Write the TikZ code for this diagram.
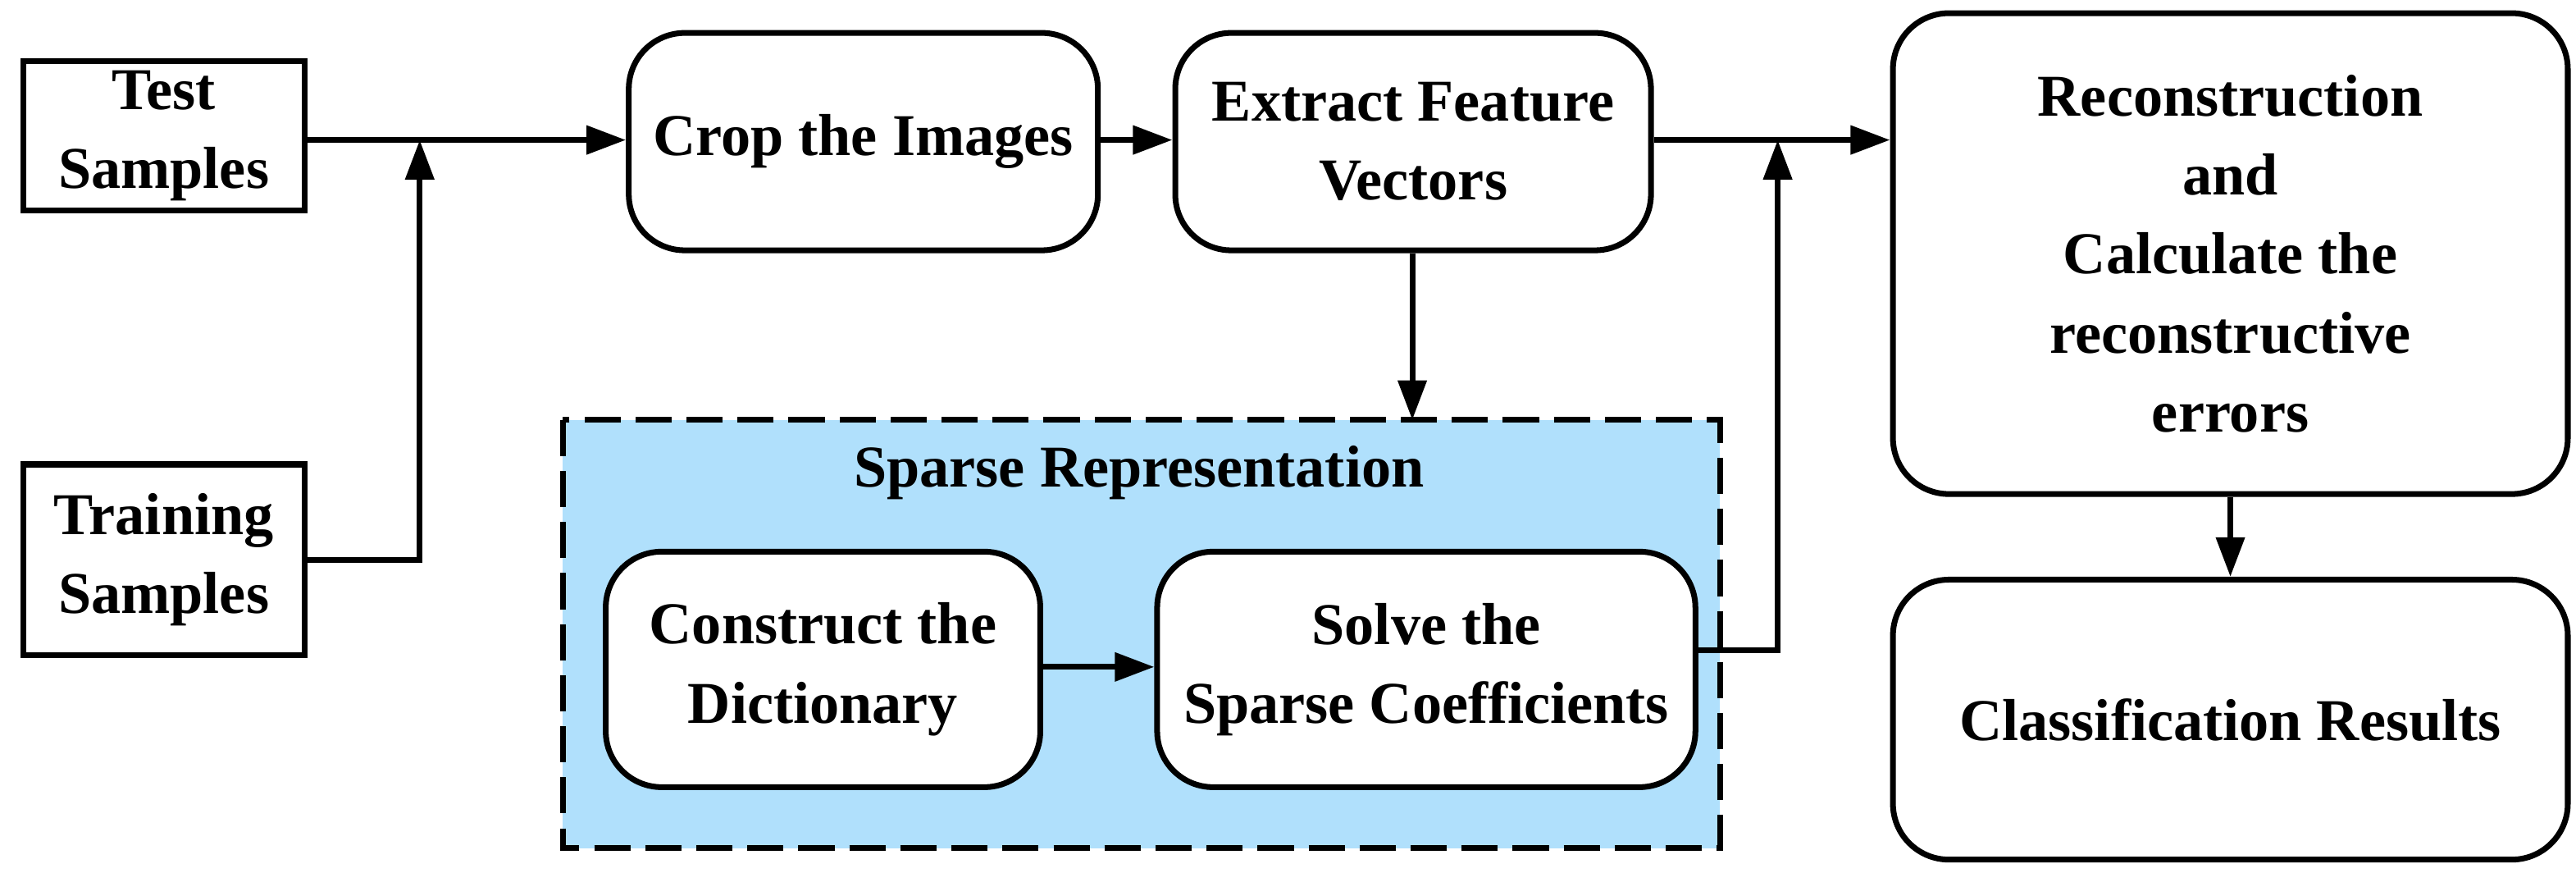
\documentclass[tikz,border=0pt]{standalone}
\usepackage{fontspec}
\setmainfont{Liberation Serif}
\usetikzlibrary{arrows.meta}
\definecolor{sb}{HTML}{B0E0FC}
\begin{document}
\begin{tikzpicture}[x=1pt,y=-1pt,
  line width=3.5pt,
  box/.style={draw,line width=3.5pt,align=center,font=\fontsize{36}{48}\selectfont\bfseries,inner sep=0pt},
  rbox/.style={box,rounded corners=34pt},
  arr/.style={-{Triangle[length=24pt,width=17pt]}}]
\useasboundingbox (0,0) rectangle (1565,530);
\draw[fill=sb,dash pattern=on 22pt off 9pt] (342,255) rectangle (1045,515);
\node[box,minimum width=171pt,minimum height=91pt] (test) at (99.5,82.5) {Test\\Samples};
\node[box,minimum width=171pt,minimum height=116pt] (train) at (99.5,340) {Training\\Samples};
\node[rbox,minimum width=285pt,minimum height=132pt] (crop) at (524.5,86) {Crop the Images};
\node[rbox,minimum width=289pt,minimum height=132pt] (ext) at (858.5,86) {Extract Feature\\Vectors};
\node[rbox,minimum width=410pt,minimum height=292pt] (rec) at (1355,154) {Reconstruction\\and\\Calculate the\\reconstructive\\errors};
\node[rbox,minimum width=410pt,minimum height=170pt] (cls) at (1355,437) {Classification Results};
\node[font=\fontsize{36}{48}\selectfont\bfseries] (sr) at (692,287) {Sparse Representation};
\node[rbox,fill=white,minimum width=264pt,minimum height=143pt] (con) at (500,406.5) {Construct the\\Dictionary};
\node[rbox,fill=white,minimum width=327pt,minimum height=143pt] (sol) at (866.5,406.5) {Solve the\\Sparse Coefficients};
\coordinate (srtop) at (858,255);
\coordinate (j1) at (255,85);
\coordinate (j2) at (1080,85);
\draw[arr] (test.east|-j1) -- (crop.west|-j1);
\draw[arr] (train.east) -| (j1);
\draw[arr] (crop.east|-j1) -- (ext.west|-j1);
\draw[arr] (ext.east|-j1) -- (rec.west|-j1);
\draw[arr] (ext.south-|srtop) -- (srtop);
\draw[arr] (sol.east|-0,395) -| (j2);
\draw[arr] (con.east|-0,405) -- (sol.west|-0,405);
\draw[arr] (rec.south) -- (cls.north);
\end{tikzpicture}
\end{document}
